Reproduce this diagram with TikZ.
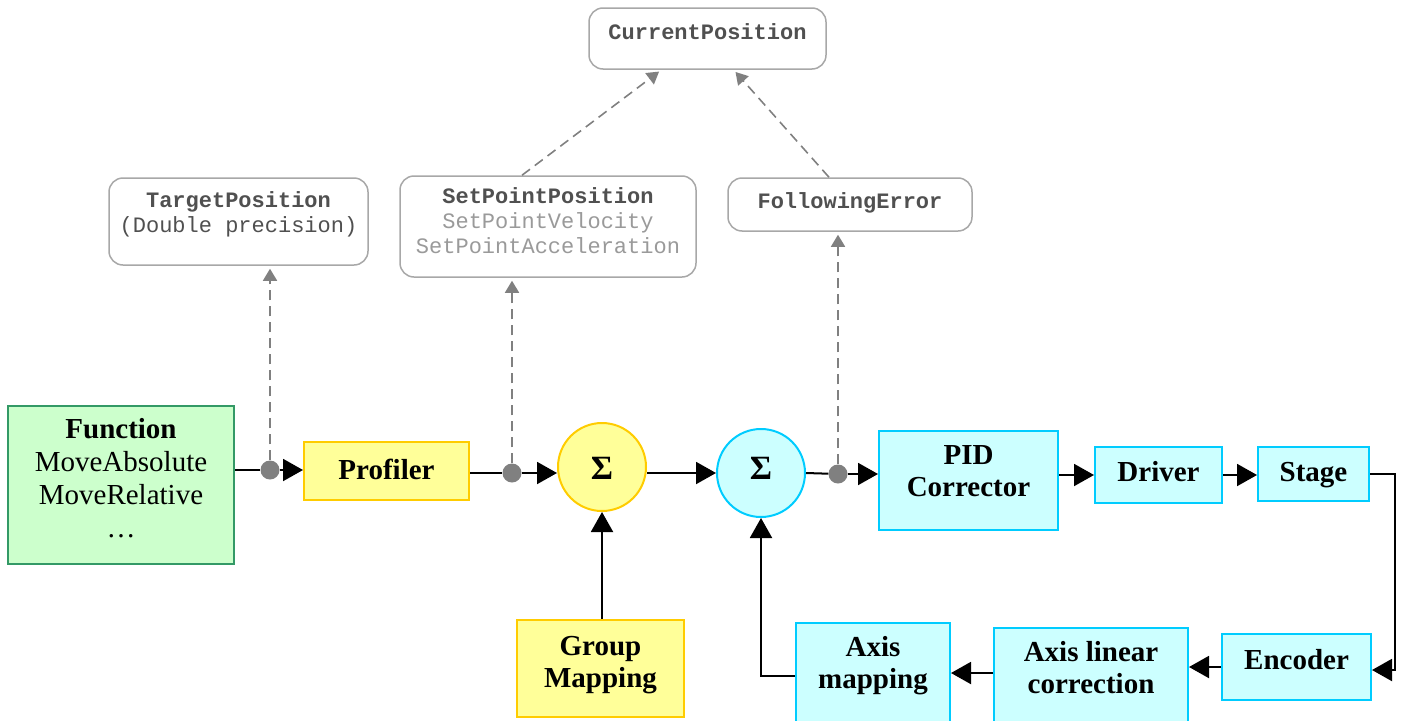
\documentclass[tikz,border=0pt]{standalone}
\usepackage{fontspec}
\setmainfont{Liberation Serif}
\setmonofont{Liberation Mono}
\usetikzlibrary{arrows.meta,calc}
\definecolor{gfill}{HTML}{CCFFCC}
\definecolor{gdraw}{HTML}{339966}
\definecolor{yfill}{HTML}{FFFF99}
\definecolor{ydraw}{HTML}{FFCC00}
\definecolor{cfill}{HTML}{CCFFFF}
\definecolor{cdraw}{HTML}{00CCFF}
\definecolor{gline}{HTML}{808080}
\definecolor{gbox}{HTML}{A8A8A8}
\definecolor{gtxt}{HTML}{505050}
\definecolor{ltxt}{HTML}{9A9A9A}
\tikzset{
  blk/.style={draw, line width=2pt, inner sep=0pt},
  greenbox/.style={blk, fill=gfill, draw=gdraw},
  yellowbox/.style={blk, fill=yfill, draw=ydraw},
  cyanbox/.style={blk, fill=cfill, draw=cdraw},
  sumnode/.style={circle, line width=2pt, inner sep=0pt, minimum size=88pt},
  infobox/.style={draw=gbox, line width=1.5pt, rounded corners=14pt, fill=white, inner sep=0pt},
  lbl/.style={font=\fontsize{29}{32}\selectfont\bfseries, align=center, inner sep=0pt, anchor=base},
  fnlbl/.style={font=\fontsize{29}{33}\selectfont, align=center, inner sep=0pt, anchor=base},
  mono/.style={font=\fontsize{22}{25}\selectfont\ttfamily, align=center, inner sep=0pt, anchor=base, text=gtxt},
  sig/.style={font=\fontsize{34}{34}\selectfont\bfseries, inner sep=0pt},
  jdot/.style={circle, fill=gline, inner sep=0pt, minimum size=19pt},
  conn/.style={line width=2pt, black},
  arr/.style={conn, -{Triangle[length=20pt,width=22pt]}},
  darr/.style={gline, line width=1.6pt, dash pattern=on 10pt off 6pt, -{Triangle[length=12pt,width=14pt]}, shorten >=3pt}
}
\begin{document}
\begin{tikzpicture}[x=1pt,y=-1pt]
\useasboundingbox (0,0) rectangle (1404,720);
% main blocks
\node[greenbox, minimum width=226pt, minimum height=158pt] (func) at (121,485) {};
\node[yellowbox, minimum width=165pt, minimum height=58pt] (prof) at (386.5,471) {};
\node[sumnode, fill=yfill, draw=ydraw] (s1) at (602,467) {};
\node[sumnode, fill=cfill, draw=cdraw] (s2) at (761,473) {};
\node[cyanbox, minimum width=179pt, minimum height=99pt] (pid) at (968.5,480.5) {};
\node[cyanbox, minimum width=127pt, minimum height=56pt] (drv) at (1158.5,475) {};
\node[cyanbox, minimum width=111pt, minimum height=54pt] (stg) at (1313.5,474) {};
\node[cyanbox, minimum width=149pt, minimum height=66pt] (enc) at (1296.5,667) {};
\node[cyanbox, minimum width=194pt, minimum height=96pt] (axl) at (1091,676) {};
\node[cyanbox, minimum width=154pt, minimum height=100pt] (axm) at (873,673) {};
\node[yellowbox, minimum width=167pt, minimum height=97pt] (grp) at (600.5,668.5) {};
% labels (base anchor = baseline of the last line)
\node[lbl] (funct) at (121,438) {Function};
\node[fnlbl] (funcl) at (121,537) {MoveAbsolute\\MoveRelative\\\dots};
\node[lbl] (proft) at (386.5,479) {Profiler};
\node[sig] (s1t) at (602,468) {Σ};
\node[sig] (s2t) at (761,468) {Σ};
\node[lbl] (pidt) at (968.5,496) {PID\\Corrector};
\node[lbl] (drvt) at (1158.5,481) {Driver};
\node[lbl] (stgt) at (1313.5,481) {Stage};
\node[lbl] (enct) at (1296.5,669) {Encoder};
\node[lbl] (axlt) at (1091,693) {Axis linear\\correction};
\node[lbl] (axmt) at (873,688) {Axis\\mapping};
\node[lbl] (grpt) at (600.5,687) {Group\\Mapping};
% info boxes
\node[infobox, minimum width=259pt, minimum height=87pt] (tp) at (238.5,221.5) {};
\node[infobox, minimum width=296pt, minimum height=101pt] (sp) at (548,226.5) {};
\node[infobox, minimum width=244pt, minimum height=53pt] (fe) at (850,204.5) {};
\node[infobox, minimum width=237pt, minimum height=61pt] (cp) at (707.5,38.5) {};
\node[mono] (tpt) at (238.5,232) {\textbf{TargetPosition}\\(Double precision)};
\node[mono] (spt) at (548,253) {\textbf{SetPointPosition}\\\textcolor{ltxt}{SetPointVelocity}\\\textcolor{ltxt}{SetPointAcceleration}};
\node[mono] (fet) at (850,208) {\textbf{FollowingError}};
\node[mono] (cpt) at (707.5,39) {\textbf{CurrentPosition}};
% junction dots
\node[jdot] (d1) at (270,470) {};
\node[jdot] (d2) at (512,473) {};
\node[jdot] (d3) at (838,474) {};
% main connectors
\draw[conn] (d1 -| func.east) -- (d1);
\draw[arr] (d1) -- (d1 -| prof.west);
\draw[conn] (d2 -| prof.east) -- (d2);
\draw[arr] (d2) -- (d2 -| s1.west);
\draw[arr] (s1.east |- s2.west) -- (s2.west);
\draw[conn] (s2.east) -- (d3);
\draw[arr] (d3) -- (d3 -| pid.west);
\draw[arr] (pid.east |- drv.west) -- (drv.west);
\draw[arr] (drv.east) -- (drv.east -| stg.west);
\draw[arr] (stg.east) -- ++(25,0) |- ($(enc.east)+(0,3)$);
\draw[arr] (enc.west) -- (enc.west -| axl.east);
\draw[arr] ($(axl.west)+(0,-3)$) -- ($(axl.west -| axm.east)+(0,-3)$);
\draw[arr] ($(axm.west)+(0,3)$) -| (s2.south);
\draw[arr] (grp.north -| s1.south) -- (s1.south);
% dashed connectors
\draw[darr] (d1) -- (d1 |- tp.south);
\draw[darr] (d2) -- (d2 |- sp.south);
\draw[darr] (d3) -- (d3 |- fe.south);
\draw[darr] ($(sp.north)+(-26,0)$) -- ($(cp.south)+(-46,0)$);
\draw[darr] ($(fe.north)+(-21,0)$) -- ($(cp.south)+(26,0)$);
\end{tikzpicture}
\end{document}
